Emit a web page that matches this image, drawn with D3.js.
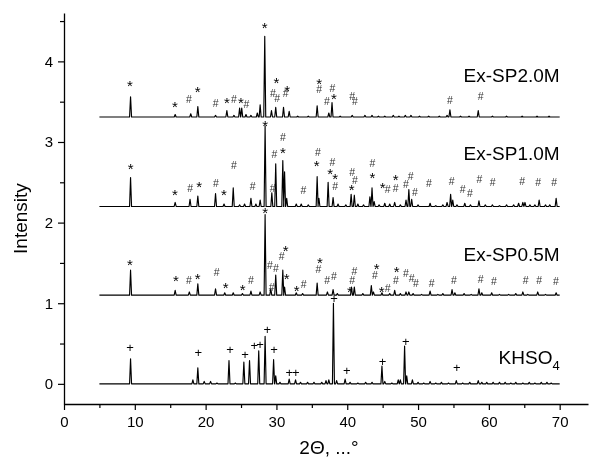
<!DOCTYPE html>
<html>
<head>
<meta charset="utf-8">
<script src="https://cdn.jsdelivr.net/npm/d3@7"></script>
<style>
  body { margin: 0; background: #fff; }
  svg { display: block; font-family: "Liberation Sans", Arial, sans-serif; will-change: transform; }
</style>
</head>
<body>
<div id="chart"></div>
<script>
// trace names and vertical offsets
const traceNames = ["KHSO4", "Ex-SP0.5M", "Ex-SP1.0M", "Ex-SP2.0M"];
const baselines = [0, 1.10, 2.20, 3.31];
const xRange = [5, 70];

// peaks: [2theta, height above baseline]
const peaksKHSO4 = [[9.4,0.31],[18.2,0.05],[18.9,0.2],[19.8,0.03],[20.7,0.03],[21.6,0.01],[23.3,0.29],[24.2,0.01],[25.4,0.27],[26.2,0.29],[27.5,0.41],[28.4,0.59],[29.6,0.30],[29.9,0.1],[30.5,0.02],[31.8,0.06],[32.7,0.05],[33.4,0.02],[34.4,0.02],[35.3,0.02],[36.4,0.02],[37.0,0.04],[37.4,0.05],[38.05,1.0],[38.5,0.04],[39.7,0.06],[40.4,0.02],[41.5,0.01],[42.6,0.02],[43.5,0.02],[44.9,0.22],[45.3,0.03],[46.3,0.01],[47.2,0.05],[47.5,0.05],[48.1,0.47],[48.4,0.1],[49.2,0.05],[50.0,0.02],[50.8,0.01],[51.7,0.03],[52.5,0.01],[53.3,0.02],[54.3,0.01],[55.4,0.04],[56.3,0.01],[57.3,0.02],[58.5,0.04],[59.0,0.02],[59.7,0.02],[60.6,0.02],[61.5,0.02],[62.3,0.02],[63.1,0.01],[63.8,0.02],[64.8,0.01],[65.7,0.02],[66.5,0.01],[67.4,0.02],[68.2,0.02],[68.8,0.01]];
const peaks05 = [[9.4,0.31],[15.7,0.06],[17.7,0.04],[18.9,0.14],[21.4,0.08],[22.7,0.03],[23.9,0.03],[25.2,0.02],[26.4,0.05],[27.7,0.04],[28.4,1.0],[29.2,0.08],[29.9,0.25],[30.9,0.31],[31.15,0.1],[32.8,0.03],[33.7,0.02],[35.75,0.15],[37.2,0.04],[38.0,0.07],[38.6,0.02],[40.6,0.1],[41.0,0.1],[42.2,0.02],[43.4,0.12],[43.7,0.04],[44.9,0.03],[46.0,0.02],[46.7,0.06],[47.5,0.02],[48.3,0.04],[48.7,0.04],[49.3,0.02],[50.5,0.01],[51.7,0.05],[52.8,0.01],[53.5,0.02],[54.8,0.07],[55.2,0.03],[56.5,0.02],[57.5,0.01],[58.6,0.08],[59.0,0.03],[60.4,0.03],[61.5,0.01],[62.8,0.01],[63.8,0.02],[64.8,0.04],[65.5,0.01],[66.9,0.04],[68.0,0.01],[69.5,0.03]];
const peaks10 = [[9.4,0.36],[15.7,0.05],[17.8,0.09],[18.9,0.13],[21.4,0.16],[22.6,0.03],[23.9,0.23],[24.8,0.02],[25.5,0.03],[26.4,0.1],[27.1,0.03],[27.7,0.08],[28.4,1.0],[29.35,0.17],[29.9,0.53],[30.9,0.57],[31.15,0.43],[31.45,0.1],[32.8,0.03],[33.5,0.03],[34.5,0.02],[35.75,0.37],[36.0,0.1],[37.3,0.3],[38.0,0.11],[38.7,0.03],[39.8,0.02],[40.55,0.15],[41.0,0.14],[41.5,0.03],[42.3,0.02],[43.2,0.12],[43.5,0.23],[43.8,0.06],[44.5,0.02],[45.3,0.04],[46.0,0.03],[46.7,0.05],[47.5,0.02],[48.3,0.08],[48.7,0.21],[49.1,0.09],[50.0,0.02],[51.7,0.04],[52.5,0.01],[53.5,0.02],[54.1,0.05],[54.6,0.15],[54.9,0.08],[55.5,0.02],[56.6,0.04],[57.4,0.02],[58.6,0.07],[59.5,0.02],[60.5,0.02],[61.5,0.01],[62.5,0.02],[63.5,0.02],[64.2,0.04],[64.8,0.05],[65.1,0.05],[65.8,0.02],[66.5,0.02],[67.1,0.08],[68.0,0.02],[68.6,0.02],[69.5,0.1]];
const peaks20 = [[9.4,0.25],[15.7,0.03],[17.9,0.04],[18.9,0.13],[21.4,0.02],[23.0,0.08],[24.0,0.02],[24.8,0.11],[25.1,0.11],[25.7,0.03],[26.4,0.02],[27.3,0.05],[27.7,0.15],[28.35,1.0],[29.3,0.08],[29.9,0.12],[31.0,0.12],[31.8,0.07],[33.0,0.01],[34.5,0.01],[35.75,0.14],[37.4,0.05],[37.85,0.18],[39.0,0.01],[40.7,0.02],[42.5,0.02],[43.5,0.02],[44.4,0.01],[45.3,0.01],[46.5,0.02],[47.3,0.01],[48.2,0.02],[49.0,0.02],[50.2,0.01],[51.5,0.01],[53.0,0.01],[54.1,0.02],[54.5,0.09],[56.0,0.01],[57.2,0.01],[58.5,0.08],[60.5,0.01],[62.5,0.01],[64.7,0.01],[66.8,0.01],[68.5,0.01]];

// phase markers: [2theta, intensity, symbol]
const marksKHSO4 = [[9.32,0.45,"+"],[18.97,0.39,"+"],[23.44,0.43,"+"],[25.56,0.37,"+"],[26.87,0.48,"+"],[27.68,0.49,"+"],[28.71,0.67,"+"],[29.66,0.43,"+"],[31.82,0.14,"+"],[32.72,0.14,"+"],[38.13,1.06,"+"],[39.92,0.16,"+"],[44.98,0.28,"+"],[48.26,0.52,"+"],[55.46,0.20,"+"]];
const marks05 = [[9.32,1.52,"*"],[15.82,1.32,"*"],[17.65,1.28,"#"],[18.88,1.34,"*"],[21.56,1.38,"#"],[22.84,1.23,"*"],[25.24,1.21,"*"],[26.41,1.28,"#"],[28.41,2.165,"*"],[29.09,1.47,"#"],[29.33,1.20,"#"],[29.94,1.43,"#"],[30.74,1.58,"#"],[31.31,1.69,"*"],[31.45,1.34,"*"],[32.86,1.19,"*"],[33.85,1.23,"#"],[35.92,1.42,"#"],[36.15,1.545,"*"],[37.18,1.28,"#"],[38.13,1.33,"#"],[41.0,1.40,"#"],[40.71,1.28,"#"],[40.39,1.18,"*"],[44.16,1.47,"*"],[43.92,1.35,"#"],[44.87,1.18,"*"],[45.71,1.19,"#"],[46.98,1.43,"*"],[46.88,1.29,"#"],[48.3,1.37,"#"],[49.1,1.31,"#"],[49.71,1.25,"#"],[51.93,1.25,"#"],[55.08,1.29,"#"],[58.85,1.30,"#"],[60.73,1.27,"#"],[65.2,1.28,"#"],[67.12,1.28,"#"],[69.48,1.27,"#"]];
const marks10 = [[9.4,2.71,"*"],[15.68,2.38,"*"],[17.83,2.43,"#"],[19.1,2.48,"*"],[21.47,2.49,"#"],[22.6,2.39,"*"],[24.0,2.71,"#"],[26.66,2.45,"#"],[28.41,3.24,"*"],[29.47,2.43,"#"],[29.7,2.85,"#"],[30.93,2.91,"*"],[30.93,3.06,"#"],[33.8,2.40,"#"],[35.7,2.74,"*"],[35.87,2.87,"#"],[37.9,2.75,"#"],[37.6,2.65,"*"],[38.3,2.58,"*"],[38.3,2.45,"#"],[40.71,2.62,"#"],[40.63,2.45,"*"],[41.1,2.52,"#"],[43.54,2.74,"#"],[43.54,2.59,"*"],[45.0,2.47,"*"],[45.71,2.41,"#"],[46.84,2.57,"*"],[46.84,2.43,"#"],[48.3,2.47,"#"],[48.96,2.57,"#"],[49.57,2.38,"#"],[51.55,2.49,"#"],[54.75,2.51,"#"],[56.3,2.41,"#"],[57.34,2.37,"#"],[58.65,2.54,"#"],[60.54,2.50,"#"],[64.72,2.51,"#"],[66.98,2.50,"#"],[69.24,2.50,"#"]];
const marks20 = [[9.32,3.74,"*"],[15.68,3.47,"*"],[17.65,3.53,"#"],[18.88,3.66,"*"],[21.42,3.48,"#"],[23.02,3.53,"*"],[24.0,3.53,"#"],[25.0,3.53,"*"],[25.75,3.47,"#"],[28.34,4.45,"*"],[29.52,3.60,"#"],[30.0,3.77,"*"],[30.1,3.54,"#"],[31.3,3.61,"#"],[31.5,3.68,"*"],[36.05,3.76,"*"],[36.05,3.66,"#"],[37.14,3.51,"#"],[37.9,3.67,"#"],[38.13,3.57,"*"],[40.71,3.57,"#"],[41.1,3.50,"#"],[54.5,3.52,"#"],[58.85,3.57,"#"]];

// tick values
const xMajor = [0, 10, 20, 30, 40, 50, 60, 70];
const xMinor = [5, 15, 25, 35, 45, 55, 65];
const yMajor = [0, 1, 2, 3, 4];
const yMinor = [0.5, 1.5, 2.5, 3.5, 4.5];

// label positions [2theta-right-end, intensity]
const labelPos = [[70, 0.25], [70, 1.52], [70, 2.78], [70, 3.74]];

const peakLists = [peaksKHSO4, peaks05, peaks10, peaks20];
const markLists = [marksKHSO4, marks05, marks10, marks20];

const W = 589, H = 457;
const svg = d3.select("#chart").append("svg")
  .attr("width", W).attr("height", H);

const x = d3.scaleLinear().domain([0, 74]).range([64, 588]);
const y = d3.scaleLinear().domain([-0.25, 4.6]).range([404, 13]);

// axes
svg.append("g").attr("transform", `translate(0,${y(-0.25)})`)
  .call(d3.axisBottom(x).tickValues(xMajor).tickSize(6).tickSizeOuter(0).tickPadding(6).tickFormat(d3.format("d")));
svg.append("g").attr("transform", `translate(0,${y(-0.25)})`)
  .call(d3.axisBottom(x).tickValues(xMinor).tickSize(4).tickSizeOuter(0).tickFormat(""))
  .select(".domain").remove();
svg.append("g").attr("transform", `translate(${x(0)},0)`)
  .call(d3.axisLeft(y).tickValues(yMajor).tickSize(6).tickSizeOuter(0).tickPadding(5).tickFormat(d3.format("d")));
svg.append("g").attr("transform", `translate(${x(0)},0)`)
  .call(d3.axisLeft(y).tickValues(yMinor).tickSize(4).tickSizeOuter(0).tickFormat(""))
  .select(".domain").remove();

svg.selectAll(".domain").attr("stroke-width", 1.3);
svg.selectAll(".tick line").attr("stroke-width", 1.2);
svg.selectAll(".tick text").attr("font-size", 15).attr("font-family", "Liberation Sans, Arial, sans-serif");

// axis titles
svg.append("text")
  .attr("transform", `translate(27,${y(2.05)}) rotate(-90)`)
  .attr("text-anchor", "middle").attr("font-size", 19)
  .text("Intensity");
svg.append("text")
  .attr("x", 329).attr("y", 454)
  .attr("text-anchor", "middle").attr("font-size", 19)
  .text("2Θ, ...°");

// traces
const hw = 0.14;
const line = d3.line().x(d => x(d[0])).y(d => y(d[1]));
peakLists.forEach((pk, i) => {
  const b = baselines[i];
  const pts = [[xRange[0], b]];
  pk.forEach(p => {
    pts.push([p[0] - hw, b], [p[0], b + p[1]], [p[0] + hw, b]);
  });
  pts.push([xRange[1], b]);
  svg.append("path")
    .datum(pts)
    .attr("fill", "none")
    .attr("stroke", "#000")
    .attr("stroke-width", 1.15)
    .attr("stroke-linejoin", "round")
    .attr("d", line);
});

// markers (y given as glyph centre)
const symSize = { "*": 15, "#": 10.5, "+": 13 };
const symOff = { "*": 0.56, "#": 0.36, "+": 0.35 };
markLists.forEach(ml => {
  svg.append("g").selectAll("text")
    .data(ml)
    .join("text")
    .attr("x", d => x(d[0]))
    .attr("y", d => y(d[1]) + symOff[d[2]] * symSize[d[2]])
    .attr("text-anchor", "middle")
    .attr("font-size", d => symSize[d[2]])
    .attr("fill", d => d[2] === "#" ? "#333" : "#000")
    .text(d => d[2]);
});

// trace labels
labelPos.forEach((p, i) => {
  const t = svg.append("text")
    .attr("x", x(p[0]))
    .attr("y", y(p[1]))
    .attr("text-anchor", "end")
    .attr("font-size", 19);
  if (i === 0) {
    t.text("KHSO");
    t.append("tspan").attr("font-size", 13).attr("dy", 6).text("4");
  } else {
    t.text(traceNames[i]);
  }
});
</script>
</body>
</html>
